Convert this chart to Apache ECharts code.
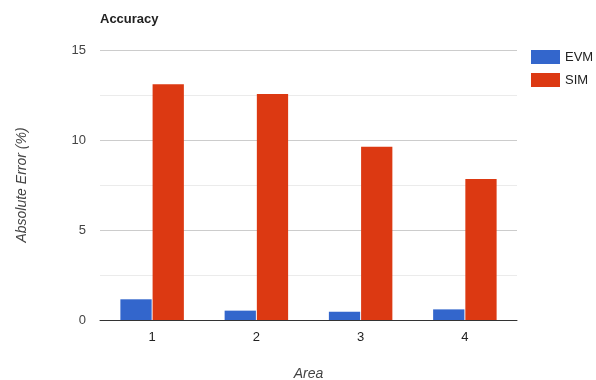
<!DOCTYPE html>
<html>
<head>
<meta charset="utf-8">
<script src="https://cdn.jsdelivr.net/npm/echarts@6/dist/echarts.min.js"></script>
<style>html,body{margin:0;padding:0;background:#fff;}#c{width:596px;height:380px;}</style>
</head>
<body>
<div id="c"></div>
<script>
const categories = ['1', '2', '3', '4'];
const evmValues = [1.15, 0.52, 0.46, 0.59];
const simValues = [13.1, 12.56, 9.63, 7.83];
const seriesNames = ['EVM', 'SIM'];

const FONT = '"Liberation Sans", Arial, sans-serif';
const chart = echarts.init(document.getElementById('c'), null, {renderer: 'canvas'});
chart.setOption({
  animation: false,
  textStyle: {fontFamily: FONT},
  title: {
    text: 'Accuracy', left: 95, top: 8,
    textStyle: {fontSize: 13, fontWeight: 'bold', color: '#222', fontFamily: FONT}
  },
  legend: {
    orient: 'vertical', left: 526, top: 45,
    itemWidth: 29, itemHeight: 14, itemGap: 9,
    icon: 'rect',
    textStyle: {fontSize: 13, color: '#222', fontFamily: FONT},
    data: seriesNames
  },
  grid: {left: 100, right: 79, top: 50, bottom: 60, containLabel: false, outerBoundsMode: 'none'},
  xAxis: {
    type: 'category', data: categories,
    name: 'Area', nameLocation: 'middle', nameGap: 47,
    nameTextStyle: {fontStyle: 'italic', color: '#444', fontSize: 14, fontFamily: FONT},
    axisLine: {lineStyle: {color: '#333', width: 1}},
    axisTick: {show: false},
    axisLabel: {color: '#222', fontSize: 13, margin: 11, fontFamily: FONT}
  },
  yAxis: {
    type: 'value', min: 0, max: 15, interval: 5,
    name: 'Absolute Error (%)', nameLocation: 'middle', nameGap: 71,
    nameTextStyle: {fontStyle: 'italic', color: '#444', fontSize: 14, fontFamily: FONT},
    axisLine: {show: false}, axisTick: {show: false},
    axisLabel: {color: '#444', fontSize: 13, margin: 14, fontFamily: FONT},
    splitLine: {lineStyle: {color: '#ccc', width: 1}},
    minorTick: {show: false, splitNumber: 2},
    minorSplitLine: {show: true, lineStyle: {color: '#ebebeb', width: 1}}
  },
  series: [
    {name: 'EVM', type: 'bar', data: evmValues, barWidth: '30%', barGap: '3%',
     itemStyle: {color: '#3366cc'}},
    {name: 'SIM', type: 'bar', data: simValues, barWidth: '30%', barGap: '3%',
     itemStyle: {color: '#dc3912'}}
  ]
});
</script>
</body>
</html>
